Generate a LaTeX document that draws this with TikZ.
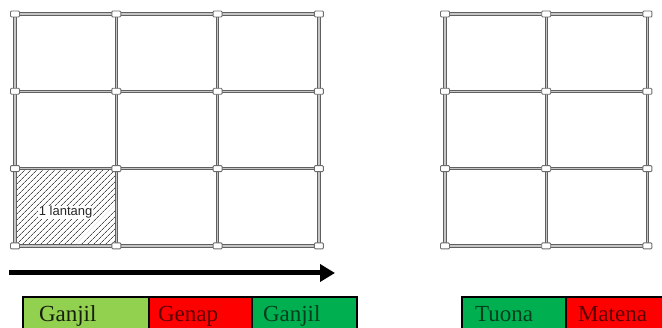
\documentclass[tikz,border=0pt]{standalone}
\usepackage{fontspec}
\setmainfont{Liberation Serif}
\newfontfamily\lantangfont{Liberation Sans}
\usetikzlibrary{arrows.meta, calc, positioning, patterns.meta, backgrounds}
\definecolor{oddlight}{HTML}{92D050}
\definecolor{oddgreen}{HTML}{00B050}
\definecolor{evenred}{HTML}{FF0000}
\tikzstyle{joint} = [rectangle, draw=gray!85!black, fill=white, line width=0.9pt, minimum width=9pt, minimum height=6pt, inner sep=0pt, rounded corners=1pt]
\tikzstyle{beam} = [draw=gray!75!black, double=gray!45, line width=1pt, double distance=1.3pt]
\tikzstyle{cell} = [rectangle, draw=black, line width=1.2pt, minimum height=40pt, inner ysep=0pt, outer sep=0pt, text height=15pt, text depth=5pt, align=left, font=\fontsize{23}{23}\selectfont]
\tikzstyle{arrow} = [line width=5pt, -{Triangle[length=15pt,width=17pt]}]

\begin{document}
\begin{tikzpicture}[x=1pt, y=-1pt]
	\clip (0,0) rectangle (662,328);
	% joints: left frame 4 x 4, right frame 3 x 4
	\foreach \i in {0,...,3}
		\foreach \j in {0,...,3}
			\node (L\i\j) [joint] at ({15+101.3*\i}, {14+77.3*\j}) {};
	\foreach \i in {0,...,2}
		\foreach \j in {0,...,3}
			\node (R\i\j) [joint] at ({445+101.2*\i}, {14+77.3*\j}) {};
	\begin{scope}[on background layer]
		\fill [pattern={Lines[angle=45, distance=4pt, line width=0.7pt]}, pattern color=gray!60!black] (L02.center) rectangle (L13.center);
		\foreach \j in {0,...,3} {
			\draw [beam] (L0\j.center) -- (L3\j.center);
			\draw [beam] (R0\j.center) -- (R2\j.center);
		}
		\foreach \i in {0,...,3}
			\draw [beam] (L\i0.center) -- (L\i3.center);
		\foreach \i in {0,...,2}
			\draw [beam] (R\i0.center) -- (R\i3.center);
	\end{scope}
	\node (Lantang) [fill=white, inner sep=0.5pt, text=black!85, font=\lantangfont\fontsize{13}{13}\selectfont] at ($(L02)!0.5!(L13)+(0,5)$) {1 lantang};
	% direction of work
	\coordinate (ArrowStart) at (9,273);
	\coordinate (ArrowEnd) at (335,273);
	\draw [arrow] (ArrowStart) -- (ArrowEnd);
	% odd / even strips
	\node (OddA) [cell, fill=oddlight, text=black!85!oddlight, text width=94pt, inner xsep=16pt, anchor=north west] at (23,297) {Ganjil};
	\node (EvenA) [cell, fill=evenred, text=black!65!evenred, text width=85pt, inner xsep=9pt, right=0pt of OddA] {Genap};
	\node (OddB) [cell, fill=oddgreen, text=black!65!oddgreen, text width=83pt, inner xsep=11pt, right=0pt of EvenA] {Ganjil};
	\node (Tuona) [cell, fill=oddgreen, text=black!65!oddgreen, text width=78pt, inner xsep=13pt, anchor=north west] at (462,297) {Tuona};
	\node (Matena) [cell, fill=evenred, text=black!65!evenred, text width=86pt, inner xsep=12pt, right=0pt of Tuona] {Matena};
\end{tikzpicture}
\end{document}
